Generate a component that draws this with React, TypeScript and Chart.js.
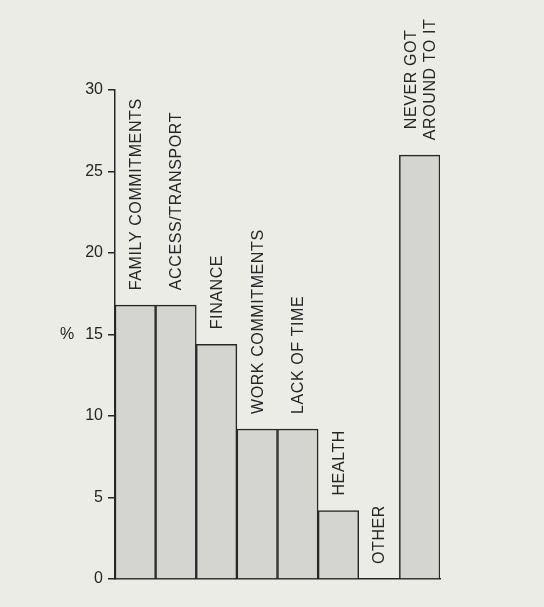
import React, { useEffect, useRef } from 'react';
import { Chart, registerables, Plugin } from 'chart.js';

Chart.register(...registerables);

// reasons given, % of respondents
const categories: string[][] = [
  ['FAMILY COMMITMENTS'],
  ['ACCESS/TRANSPORT'],
  ['FINANCE'],
  ['WORK COMMITMENTS'],
  ['LACK OF TIME'],
  ['HEALTH'],
  ['OTHER'],
  ['NEVER GOT', 'AROUND TO IT'],
];
const percentValues: number[] = [16.8, 16.8, 14.4, 9.2, 9.2, 4.2, 0, 26.0];
const yTicks: number[] = [0, 5, 10, 15, 20, 25, 30];
const yUnitLabel = '%';

const INK = '#262626';
const PAPER = '#ecece6';
const FONT = '"Liberation Sans", Arial, Helvetica, sans-serif';

// writes the category names upright above each bar, plus the % unit label
const barLabels: Plugin<'bar'> = {
  id: 'barLabels',
  afterDatasetsDraw(chart) {
    const { ctx } = chart;
    const x = chart.scales.x;
    const y = chart.scales.y;
    ctx.save();
    ctx.fillStyle = INK;
    ctx.font = `16px ${FONT}`;
    (ctx as any).letterSpacing = '0.6px';
    ctx.textBaseline = 'middle';
    categories.forEach((lines, i) => {
      const cx = x.getPixelForValue(i);
      const top = y.getPixelForValue(percentValues[i]);
      const gap = 15;
      ctx.save();
      ctx.translate(cx, top - gap);
      ctx.rotate(-Math.PI / 2);
      if (lines.length === 1) {
        ctx.textAlign = 'left';
        ctx.fillText(lines[0], 0, 1);
      } else {
        const w = Math.max(...lines.map((l) => ctx.measureText(l).width));
        ctx.textAlign = 'center';
        const step = 19;
        lines.forEach((l, k) => {
          ctx.fillText(l, w / 2, (k - (lines.length - 1) / 2) * step + 1);
        });
      }
      ctx.restore();
    });
    (ctx as any).letterSpacing = '0px';
    ctx.textAlign = 'center';
    ctx.fillText(yUnitLabel, 67, y.getPixelForValue(15));
    ctx.restore();
  },
};

const App: React.FC = () => {
  const canvasRef = useRef<HTMLCanvasElement>(null);
  const chartRef = useRef<Chart<'bar'>>();

  useEffect(() => {
    document.body.style.margin = '0';
    document.body.style.background = PAPER;
    const ctx = canvasRef.current?.getContext('2d');
    if (!ctx) return;
    if (chartRef.current) chartRef.current.destroy();

    chartRef.current = new Chart(ctx, {
      type: 'bar',
      data: {
        labels: categories.map((c) => c.join(' ')),
        datasets: [
          {
            data: percentValues,
            backgroundColor: '#d4d5d0',
            borderColor: INK,
            borderWidth: 1.5,
            barPercentage: 1,
            categoryPercentage: 1,
          },
        ],
      },
      options: {
        animation: false,
        responsive: true,
        maintainAspectRatio: false,
        layout: { padding: { left: 0, right: 104, top: 90, bottom: 28 } },
        plugins: {
          legend: { display: false },
          tooltip: { enabled: false },
        },
        scales: {
          x: {
            grid: { display: false },
            ticks: { display: false },
            border: { display: true, color: INK, width: 1.5 },
            afterFit: (s) => {
              s.height = 0;
            },
          },
          y: {
            min: yTicks[0],
            max: yTicks[yTicks.length - 1],
            afterBuildTicks: (s) => {
              s.ticks = yTicks.map((v) => ({ value: v }));
            },
            grid: {
              drawOnChartArea: false,
              drawTicks: true,
              tickLength: 7,
              color: INK,
              lineWidth: 1.5,
            },
            border: { display: true, color: INK, width: 1.5 },
            ticks: {
              color: INK,
              padding: 5,
              font: { family: FONT, size: 16 },
            },
            afterFit: (s) => {
              s.width = 115;
            },
          },
        },
      },
      plugins: [barLabels],
    });

    return () => {
      if (chartRef.current) {
        chartRef.current.destroy();
        chartRef.current = undefined;
      }
    };
  }, []);

  return (
    <div style={{ position: 'relative', width: 544, height: 607, background: PAPER }}>
      <canvas ref={canvasRef}></canvas>
    </div>
  );
};

export default App;
